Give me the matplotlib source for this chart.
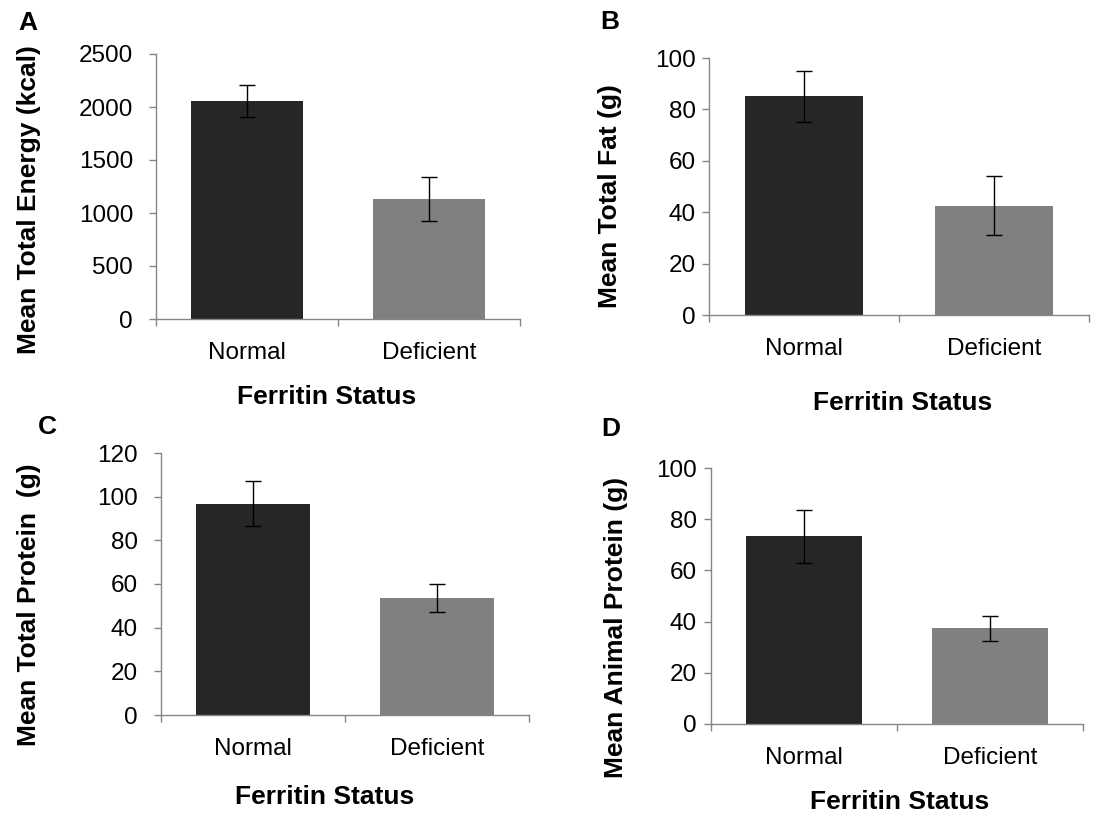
import numpy as np
import matplotlib
matplotlib.use('Agg')
import matplotlib.pyplot as plt

plt.rcParams['font.family'] = ['Liberation Sans', 'DejaVu Sans']

W, H = 1099, 814

categories = ['Normal', 'Deficient']
bar_colors = ['#262626', '#808080']

energy_mean = [2055, 1132]
energy_err = [152, 212]
fat_mean = [85.1, 42.6]
fat_err = [10.0, 11.6]
protein_mean = [96.8, 53.7]
protein_err = [10.3, 6.5]
animal_mean = [73.3, 37.4]
animal_err = [10.4, 4.8]

panels = [
    # letter, ylabel, means, errs, ymax, ystep, axes box (px), ytick pad, xlabel pos, ylabel pos, letter pos
    ('A', 'Mean Total Energy (kcal)', energy_mean, energy_err, 2500, 500,
     (156, 520, 54, 319), 11.5, (327, 397), (29, 200), (28, 23)),
    ('B', 'Mean Total Fat (g)', fat_mean, fat_err, 100, 20,
     (709, 1089, 58, 315), 4.3, (903, 403), (610, 196), (610, 22)),
    ('C', 'Mean Total Protein  (g)', protein_mean, protein_err, 120, 20,
     (161, 529, 453, 715), 11.5, (325, 797), (29, 605), (47, 427)),
    ('D', 'Mean Animal Protein (g)', animal_mean, animal_err, 100, 20,
     (711, 1083, 468, 724), 5.0, (900, 802), (616, 627), (611, 429)),
]

fig = plt.figure(figsize=(W / 100, H / 100), dpi=100)
axis_gray = '#868686'

for letter, ylab, means, errs, ymax, ystep, box, ypad, xlpos, ylpos, lpos in panels:
    l, r, t, b = box
    ax = fig.add_axes([l / W, 1 - b / H, (r - l) / W, (b - t) / H])
    x = np.arange(len(categories))
    ax.bar(x, means, width=0.62, color=bar_colors, zorder=2)
    ax.errorbar(x, means, yerr=errs, fmt='none', ecolor='black',
                elinewidth=1, capsize=6, capthick=1, zorder=3)
    ax.set_xlim(-0.5, 1.5)
    ax.set_ylim(0, ymax)
    ax.set_yticks(np.arange(0, ymax + ystep / 2, ystep))
    ax.set_xticks(x)
    ax.set_xticklabels(categories)
    ax.set_xticks([-0.5, 0.5, 1.5], minor=True)
    ax.tick_params(axis='x', which='major', length=0, pad=16.5, labelsize=17.5)
    ax.tick_params(axis='x', which='minor', length=5, width=1, color=axis_gray,
                   direction='out')
    ax.tick_params(axis='y', length=5, width=1, color=axis_gray,
                   pad=ypad, labelsize=17.5)
    for s in ['top', 'right']:
        ax.spines[s].set_visible(False)
    for s in ['left', 'bottom']:
        ax.spines[s].set_color(axis_gray)
        ax.spines[s].set_linewidth(1)

    fig.text(xlpos[0] / W, 1 - xlpos[1] / H, 'Ferritin Status',
             fontsize=19, fontweight='bold', ha='center', va='center')
    fig.text(ylpos[0] / W, 1 - ylpos[1] / H, ylab, rotation=90,
             fontsize=19, fontweight='bold', ha='center', va='center')
    fig.text(lpos[0] / W, 1 - lpos[1] / H, letter,
             fontsize=19, fontweight='bold', ha='center', va='center')

fig.savefig('out.png', dpi=100)
